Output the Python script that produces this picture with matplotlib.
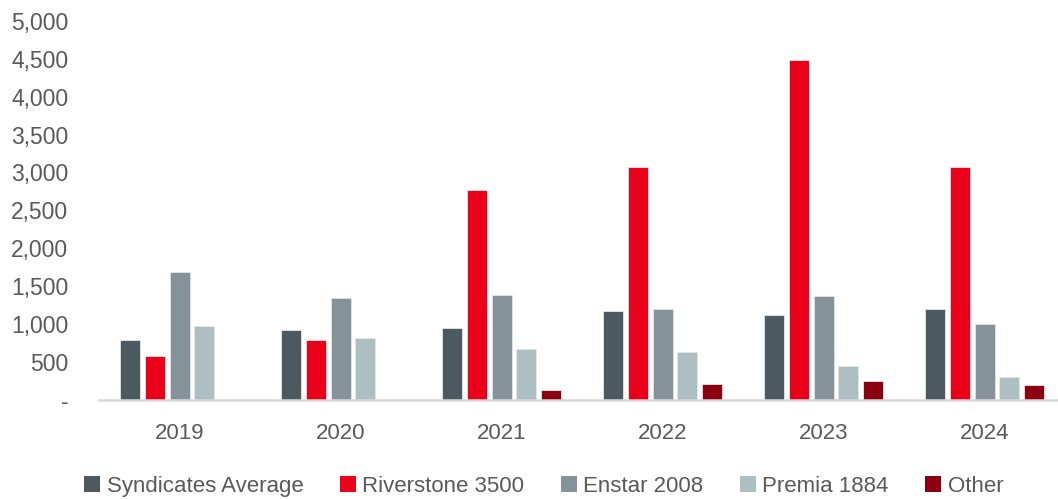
import matplotlib
matplotlib.use("Agg")
import matplotlib.pyplot as plt
from matplotlib.patches import Patch
from matplotlib.ticker import FuncFormatter, MultipleLocator
import numpy as np

years = ["2019", "2020", "2021", "2022", "2023", "2024"]
series_names = ["Syndicates Average", "Riverstone 3500", "Enstar 2008", "Premia 1884", "Other"]
syndicates_avg = [786, 914, 949, 1169, 1112, 1195]
riverstone_3500 = [575, 786, 2763, 3067, 4485, 3071]
enstar_2008 = [1680, 1337, 1380, 1191, 1363, 997]
premia_1884 = [967, 812, 667, 627, 447, 293]
other = [0, 0, 125, 209, 244, 187]
colors = ["#4C5960", "#EA0019", "#84939A", "#AEBFC3", "#8C0010"]

plt.rcParams['font.family'] = ['Liberation Sans', 'DejaVu Sans']

fig = plt.figure(figsize=(10.58, 4.99), dpi=100)
ax = fig.add_axes([99/1058, (499-399.5)/499, 1 - 99/1058, (399.5-21)/499])

data = [syndicates_avg, riverstone_3500, enstar_2008, premia_1884, other]
x = np.arange(len(years))
step = 24.7/161
width = 20/161
for i, (vals, c) in enumerate(zip(data, colors)):
    ax.bar(x + (i-2)*step, vals, width=width, color=c, edgecolor="#e6e6e6", linewidth=0.6, zorder=2)

ax.set_xlim(-0.5, -0.5 + 959/161)
ax.set_ylim(0, 5000)
ax.yaxis.set_major_locator(MultipleLocator(500))
ax.yaxis.set_major_formatter(FuncFormatter(lambda v, p: "-" if v == 0 else f"{int(v):,}"))
ax.set_xticks(x)
ax.set_xticklabels(years)

for s in ["top", "right", "left"]:
    ax.spines[s].set_visible(False)
ax.spines["bottom"].set_color("#d9d9d9")
ax.spines["bottom"].set_linewidth(1.8)
ax.spines["bottom"].set_zorder(3)

ax.tick_params(axis="both", length=0, labelcolor="#595959")
ax.tick_params(axis="y", pad=22, labelsize=16.5)
ax.tick_params(axis="x", pad=17, labelsize=16)

handles = [Patch(facecolor=c, edgecolor="none", label=n) for c, n in zip(colors, series_names)]
leg = fig.legend(handles=handles, loc="center", bbox_to_anchor=(0.514, 12.5/499), ncol=5,
                 frameon=False, fontsize=16, handlelength=0.7, handleheight=0.7,
                 handletextpad=0.3, columnspacing=1.65, borderpad=0, borderaxespad=0)
for t in leg.get_texts():
    t.set_color("#595959")

fig.savefig("out.png", dpi=100)
